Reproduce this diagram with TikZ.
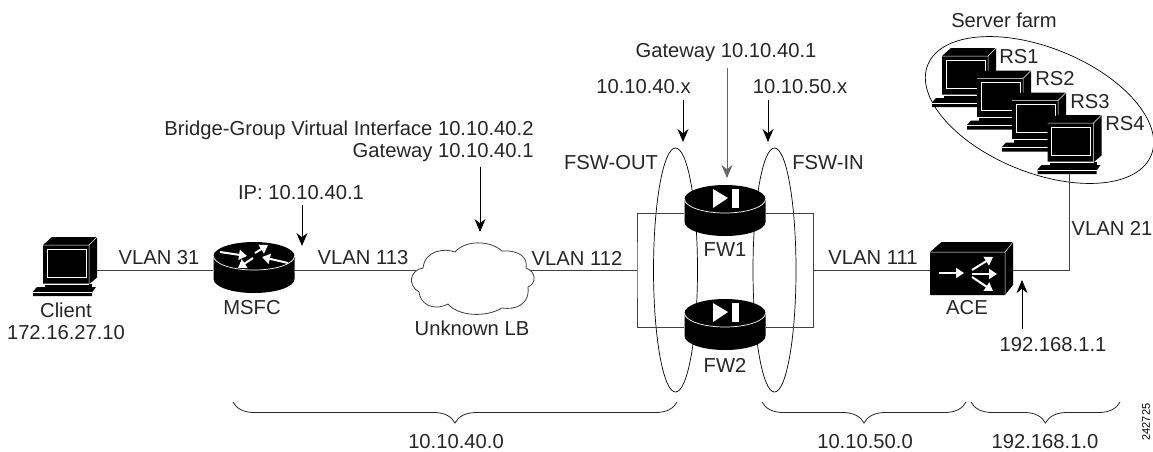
\documentclass[tikz,border=0pt]{standalone}
\usepackage{fontspec}
\setmainfont{Liberation Sans}
\usetikzlibrary{arrows.meta,positioning,shapes.geometric,decorations.pathreplacing}
\newcommand{\lblfont}{\fontsize{20.2}{22}\selectfont}
\tikzset{lbl/.style={inner sep=0pt,align=center,font=\lblfont,text=black!85},
  iconbox/.style={inner sep=0pt,minimum width=#1},
  link/.style={draw=black!75,line width=.9pt},
  callout/.style={-{Stealth[length=13pt,width=11pt]},draw=black,line width=.9pt},
  farm/.style={draw=black,line width=.7pt},
  netbrace/.style={draw=black!85,line width=.8pt,decorate,decoration={brace,mirror,amplitude=21pt}},
  whitearrow/.style={-{Triangle[length=8pt,width=10pt]},draw=white,line width=2pt},
  pics/station/.style={code={
    \fill (-22,-21.5)--(-13,-29.5)--(32,-29.5)--(32,11)--(25,17)--(-22,17)--cycle;
    \draw[white,line width=.5pt] (-22,-21.5)--(24,-21.5)--(32,-29.5) (24,-21.5)--(24,17);
    \draw[white,line width=1pt] (-18,-17.5)rectangle(21,10.5);
    \fill (-20,17)--(27,17)--(27,22)--(-20,22)--cycle;
    \draw[white,line width=.5pt] (-22,17.5)--(24,17.5) (-22,21)--(25,21);
    \fill (-32,25)--(-28,20.5)--(31,20.5)--(27,26)--(27,29.5)--(-32,29.5)--cycle;
    \draw[white,line width=.6pt] (-32,25.5)--(27,25.5);}},
  pics/puck/.style={code={
    \fill (-40.5,-14)--(-40.5,9) arc[start angle=180,end angle=360,x radius=40.5pt,y radius=14pt]
      --(40.5,-14) arc[start angle=0,end angle=180,x radius=40.5pt,y radius=14pt]--cycle;
    \draw[white,line width=.7pt] (-40.5,-14) arc[start angle=180,end angle=360,x radius=40.5pt,y radius=14pt];}},
  pics/routericon/.style={code={
    \pic {puck};
    \draw[whitearrow] (-34,-18)--(-7,-14);
    \draw[whitearrow] (1,-17)--(14,-25);
    \draw[whitearrow] (34,-7)--(8,-13);
    \draw[whitearrow] (-1,-12)--(-16,-2);}},
  pics/fwicon/.style={code={
    \pic {puck};
    \fill[white] (-12,-24)--(3,-15)--(-12,-5)--cycle;
    \fill[white] (7,-24) rectangle (14,-5);}},
  pics/aceicon/.style={code={
    \fill (-41.5,-18)--(-30,-28)--(41.5,-28)--(41.5,15)--(33.5,25)--(-41.5,25)--cycle;
    \draw[white,line width=.5pt] (-41.5,-18)--(33.5,-18)--(41.5,-28) (33.5,-18)--(33.5,25);
    \draw[whitearrow] (-32.5,3)--(-7.5,3);
    \draw[whitearrow] (.5,0)--(21.5,-13);
    \draw[whitearrow] (.5,4)--(25.5,4);
    \draw[whitearrow] (.5,7)--(21.5,21);}},
  pics/lbcloud/.style={code={
    \draw[draw=black!75,line width=.8pt,fill=white] (-50,-2)
      .. controls (-48,-20) and (-28,-22) .. (-18,-18)
      .. controls (-8,-30) and (17,-30) .. (29,-19)
      .. controls (47,-20) and (55,-12) .. (53,-2)
      .. controls (64,2) and (63,14) .. (55,17)
      .. controls (57,35) and (42,40) .. (29,38)
      .. controls (12,48) and (-15,46) .. (-25,34)
      .. controls (-41,42) and (-53,33) .. (-54,22)
      .. controls (-66,15) and (-63,0) .. cycle;}}}
\begin{document}
\begin{tikzpicture}[x=1pt,y=-1pt]
    \useasboundingbox (0,0) rectangle (1153,451);
    % groups behind the devices
    \node[draw,farm,ellipse,minimum width=241pt,minimum height=125pt,rotate=-22,inner sep=0pt] (farm) at (1039.5,110) {};
    \node[draw,farm,ellipse,minimum width=44pt,minimum height=244pt,inner sep=0pt] (fswout) at (675.5,270) {};
    \node[draw,farm,ellipse,minimum width=43pt,minimum height=244pt,inner sep=0pt] (fswin) at (774.5,270) {};
    % devices
    \node[iconbox=64pt,minimum height=59pt] (client) at (65,266.5) {};
    \pic at (client) {station};
    \node[iconbox=81pt] (msfc) at (254,270) {};
    \pic at (msfc) {routericon};
    \node[iconbox=110pt] (lb) at (473,270) {};
    \node[iconbox=81pt] (fw1) at (725,213) {};
    \pic at (fw1) {fwicon};
    \node[iconbox=81pt] (fw2) at (725,327) {};
    \pic at (fw2) {fwicon};
    \node[iconbox=83pt] (ace) at (971.5,270) {};
    \pic at (ace) {aceicon};
    \foreach \name/\xpos/\ypos in {rs1/964/77.5,rs2/999/100,rs3/1034/122,rs4/1069.5/144.5}{
      \node[iconbox=64pt,minimum height=59pt] (\name) at (\xpos,\ypos) {};
      \pic at (\name) {station};}
    % free ends
    \coordinate (hubl) at (637,270);
    \coordinate (hubr) at (813,270);
    \coordinate (bgviend) at (480,232);
    \coordinate (ipend) at (302,246);
    \coordinate (gwend) at (727,178);
    \coordinate (outend) at (683,142);
    \coordinate (inend) at (768,142);
    \coordinate (aceend) at (1022,280);
    % links
    \draw[link] (client.east |- msfc) -- (msfc.west);
    \draw[link] (msfc.east) -- (lb.west);
    \draw[link] (lb.east) -- (hubl);
    \draw[link] (fw1.west) -| (hubl) |- (fw2.west);
    \draw[link] (fw1.east) -| (hubr) |- (fw2.east);
    \draw[link] (hubr) -- (ace.west);
    \draw[link] (ace.east) -| (rs4.south);
    \pic at (lb) {lbcloud};
    % labels
    \node[lbl] (clientlbl) at (66,310) {Client};
    \node[lbl,below=8pt of clientlbl] (clientip) {172.16.27.10};
    \node[lbl] (msfclbl) at (252,308) {MSFC};
    \node[lbl] (lblb) at (472,328) {Unknown LB};
    \node[lbl] (fw1lbl) at (725,250) {FW1};
    \node[lbl] (fw2lbl) at (725,365) {FW2};
    \node[lbl] (acelbl) at (967,308) {ACE};
    \node[lbl] (v31) at (159,258) {VLAN 31};
    \node[lbl] (v113) at (363,258) {VLAN 113};
    \node[lbl] (v112) at (577,258) {VLAN 112};
    \node[lbl] (v111) at (873,258) {VLAN 111};
    \node[lbl] (v21) at (1112,228) {VLAN 21};
    \node[lbl] (iplbl) at (301,193) {IP: 10.10.40.1};
    \node[lbl,align=right] (bgvilbl) at (349,141) {Bridge-Group Virtual Interface 10.10.40.2\\Gateway 10.10.40.1};
    \node[lbl] (gwlbl) at (726,53) {Gateway 10.10.40.1};
    \node[lbl] (outlbl) at (643.5,87) {10.10.40.x};
    \node[lbl] (inlbl) at (800,87) {10.10.50.x};
    \node[lbl] (fswoutlbl) at (611,163) {FSW-OUT};
    \node[lbl] (fswinlbl) at (828,163) {FSW-IN};
    \node[lbl] (acepoint) at (1053,345) {192.168.1.1};
    \node[lbl] (farmlbl) at (1004,20) {Server farm};
    \node[lbl] (rs1lbl) at (1019,57) {RS1};
    \node[lbl] (rs2lbl) at (1055,79) {RS2};
    \node[lbl] (rs3lbl) at (1090,102) {RS3};
    \node[lbl] (rs4lbl) at (1125,124) {RS4};
    % callouts
    \draw[callout] (ipend |- iplbl.south) ++(0,5) -- (ipend);
    \draw[callout] (bgviend |- bgvilbl.south) ++(0,5) -- (bgviend);
    \draw[callout,draw=black!60] (gwlbl.south -| gwend) ++(0,6) -- (gwend);
    \draw[callout] (outend |- outlbl.south) ++(0,6) -- (outend);
    \draw[callout] (inend |- inlbl.south) ++(0,6) -- (inend);
    \draw[callout] (acepoint.north -| aceend) ++(0,-9) -- (aceend);
    % subnets
    \draw[netbrace] (233,402) -- (677,402);
    \draw[netbrace] (762,402) -- (966,402);
    \draw[netbrace] (971,402) -- (1120,402);
    \node[lbl] (net40) at (456,442) {10.10.40.0};
    \node[lbl] (net50) at (865,442) {10.10.50.0};
    \node[lbl] (net1) at (1045,442) {192.168.1.0};
    \node[inner sep=0pt,font=\fontsize{11}{12}\selectfont,rotate=90] (figid) at (1146,422) {242725};
  \end{tikzpicture}
\end{document}
